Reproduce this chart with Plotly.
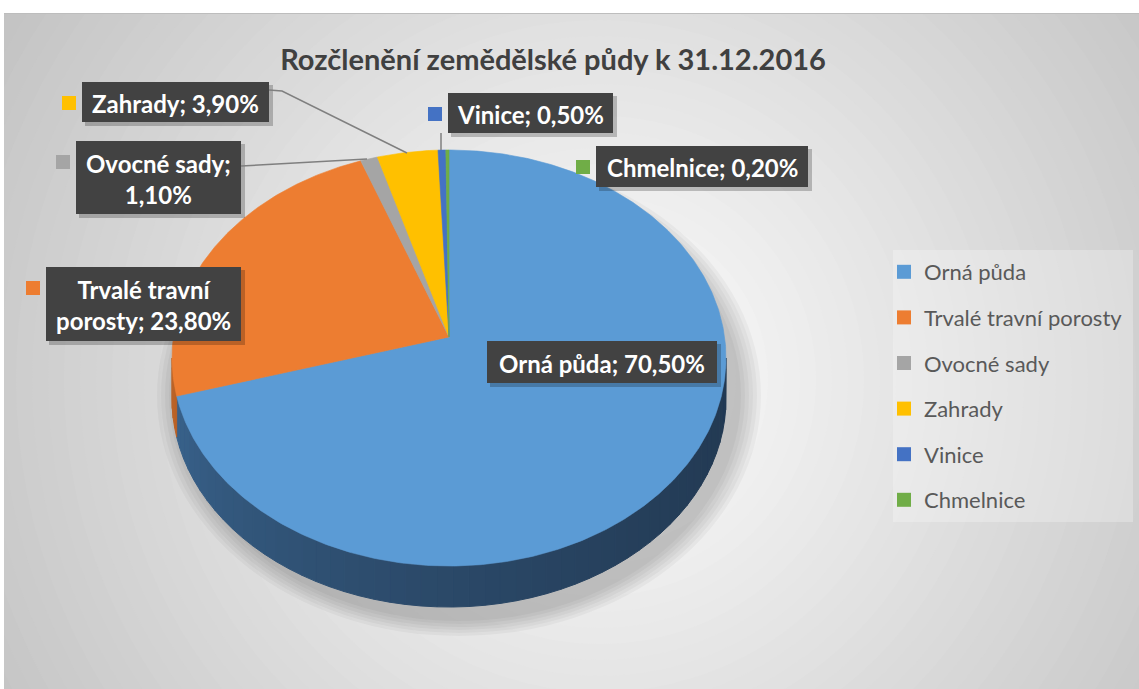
import numpy as np
import plotly.graph_objects as go

# ---------------- data ----------------
categories = ["Orná půda", "Trvalé travní porosty", "Ovocné sady", "Zahrady", "Vinice", "Chmelnice"]
shares = [70.5, 23.8, 1.1, 3.9, 0.5, 0.2]
title_text = "Rozčlenění zemědělské půdy k 31.12.2016"

# ---------------- styles ----------------
top_colors = ["#5B9BD5", "#ED7D31", "#A5A5A5", "#FFC000", "#4472C4", "#70AD47"]
side_dark = [(34, 57, 82), (160, 80, 25), (110, 110, 110), (170, 128, 0), (40, 70, 120), (70, 110, 45)]
side_light = [(60, 104, 148), (190, 100, 40), (130, 130, 130), (200, 150, 0), (50, 85, 140), (85, 130, 55)]
wrap_at = [None, "travní ", "; ", None, None, None]
FONT = "Lato"

W, H = 1139, 689
# perspective-projected pie: centre, radii, perspective strength, thickness
CX, CY, RX, RY, P, DEPTH = 449, 337, 275.6, 205.9, 0.101, 41


def rim(theta_deg, drop=0.0):
    t = np.radians(np.asarray(theta_deg, dtype=float))
    u, v = np.sin(t), np.cos(t)
    w = 1 + P * v
    return CX + RX * u / w, CY - RY * v / w + drop


def lerp(c1, c2, t):
    return "rgb(%d,%d,%d)" % tuple(round(a + (b - a) * t) for a, b in zip(c1, c2))


total = sum(shares)
bounds = np.concatenate([[0.0], np.cumsum(shares)]) / total * 360.0
th_right = np.degrees(np.arccos(-P))
th_left = 360 - th_right

fig = go.Figure()

# ---- pie side (visible front) ----
for i, (a, b) in enumerate(zip(bounds[:-1], bounds[1:])):
    s, e = max(a, th_right), min(b, th_left)
    if e <= s:
        continue
    n = max(1, int(np.ceil((e - s) / 3.0)))
    edges = np.linspace(s, e, n + 1)
    for j in range(n):
        th = np.linspace(edges[j], edges[j + 1], 6)
        xt, yt = rim(th)
        xb, yb = rim(th[::-1], DEPTH)
        mid = (edges[j] + edges[j + 1]) / 2
        col = lerp(side_dark[i], side_light[i], max(0.0, (mid - 90) / 180.0) ** 1.6)
        fig.add_trace(go.Scatter(
            x=np.r_[xt, xb, xt[:1]], y=np.r_[yt, yb, yt[:1]],
            mode="lines", fill="toself", fillcolor=col,
            line=dict(color=col, width=1), hoverinfo="skip", showlegend=False))

# ---- pie top faces ----
for i, (a, b) in enumerate(zip(bounds[:-1], bounds[1:])):
    th = np.linspace(a, b, max(3, int(b - a) * 2 + 2))
    xt, yt = rim(th)
    fig.add_trace(go.Scatter(
        x=np.r_[CX, xt, CX], y=np.r_[CY, yt, CY],
        mode="lines", fill="toself", fillcolor=top_colors[i],
        line=dict(color=top_colors[i], width=0.6),
        name=categories[i], hoveron="fills",
        hovertemplate=f"{categories[i]}: {shares[i]:.2f} %<extra></extra>".replace(".", ","),
        showlegend=False))

# ---- legend entries ----
for i, cat in enumerate(categories):
    fig.add_trace(go.Scatter(
        x=[None], y=[None], mode="markers", name=cat, legendgroup=cat,
        marker=dict(symbol="square", size=14, color=top_colors[i]),
        showlegend=True))

shapes = []
# background radial gradient
GX, GY = 600, 380
for r in range(760, 0, -16):
    v = max(188, round(255 - 55 * r / 650))
    shapes.append(dict(type="circle", xref="x", yref="y", layer="below",
                       x0=GX - r, x1=GX + r, y0=GY - r, y1=GY + r,
                       fillcolor=f"rgb({v},{v},{v})", line=dict(width=0)))
# white outer page strips
shapes.append(dict(type="rect", xref="x", yref="y", layer="below", x0=0, x1=W, y0=0, y1=13,
                   fillcolor="white", line=dict(width=0)))
shapes.append(dict(type="rect", xref="x", yref="y", layer="below", x0=0, x1=4, y0=0, y1=H,
                   fillcolor="white", line=dict(width=0)))
shapes.append(dict(type="line", xref="x", yref="y", layer="below", x0=4, x1=W, y0=13.5, y1=13.5,
                   line=dict(color="#bdbdbd", width=1)))
# legend panel
shapes.append(dict(type="rect", xref="x", yref="y", layer="below", x0=893, x1=1133, y0=250, y1=522,
                   fillcolor="rgba(255,255,255,0.25)", line=dict(width=0)))
# soft pie shadow
for k in range(6):
    shapes.append(dict(type="circle", xref="x", yref="y", layer="below",
                       x0=CX - 282 - 4 * k + 10, x1=CX + 282 + 4 * k + 10,
                       y0=150 + 20 - 3 * k, y1=566 + DEPTH + 14 + 3 * k,
                       fillcolor="rgba(0,0,0,0.035)", line=dict(width=0)))

# data label boxes: (x0, y0, x1, y1)
label_boxes = [
    (487, 341, 717, 383),
    (46, 267, 241, 341),
    (76, 141, 241, 214),
    (82, 82, 269, 122),
    (448, 93, 613, 133),
    (596, 146, 808, 187),
]
annotations = []
for i, (x0, y0, x1, y1) in enumerate(label_boxes):
    shapes.append(dict(type="rect", xref="x", yref="y", x0=x0 + 3, x1=x1 + 4, y0=y0 + 3, y1=y1 + 4,
                       fillcolor="rgba(0,0,0,0.22)", line=dict(width=0)))
    shapes.append(dict(type="rect", xref="x", yref="y", x0=x0, x1=x1, y0=y0, y1=y1,
                       fillcolor="#424242", line=dict(width=0)))
    ky = y0 + 14
    shapes.append(dict(type="rect", xref="x", yref="y", x0=x0 - 20, x1=x0 - 6, y0=ky, y1=ky + 14,
                       fillcolor=top_colors[i], line=dict(width=0)))
    txt = f"{categories[i]}; {shares[i]:.2f}%".replace(".", ",")
    if wrap_at[i]:
        txt = txt.replace(wrap_at[i], wrap_at[i].rstrip() + "<br>", 1)
    annotations.append(dict(x=(x0 + x1) / 2, y=(y0 + y1) / 2 + 1, xref="x", yref="y", text=txt,
                            showarrow=False, align="center",
                            font=dict(family=FONT, size=24, color="white", weight="bold")))

# leader lines
lc = dict(color="#7f7f7f", width=1.5)
shapes.append(dict(type="path", xref="x", yref="y", path="M 269 90 L 282 91 L 407 153", line=lc))
shapes.append(dict(type="line", xref="x", yref="y", x0=241, y0=166, x1=367, y1=159, line=lc))
shapes.append(dict(type="line", xref="x", yref="y", x0=441, y0=133, x1=441, y1=150, line=lc))

fig.update_layout(
    width=W, height=H,
    margin=dict(l=0, r=0, t=0, b=0),
    paper_bgcolor="white", plot_bgcolor="white",
    xaxis=dict(range=[0, W], visible=False, fixedrange=True),
    yaxis=dict(range=[H, 0], visible=False, fixedrange=True),
    shapes=shapes,
    annotations=annotations,
    title=dict(text=title_text, x=553 / W, y=1 - 60 / H, xanchor="center", yanchor="middle",
               font=dict(family=FONT, size=29, color="#404040", weight="bold")),
    legend=dict(x=884 / W, y=1 - 251 / H, xanchor="left", yanchor="top",
                bgcolor="rgba(0,0,0,0)", tracegroupgap=14,
                font=dict(family=FONT, size=22, color="#595959")),
    hovermode="closest",
)

fig.write_html("out.html", config={"displayModeBar": False},
               post_script="document.body.style.margin='0';document.body.style.overflow='hidden';")
